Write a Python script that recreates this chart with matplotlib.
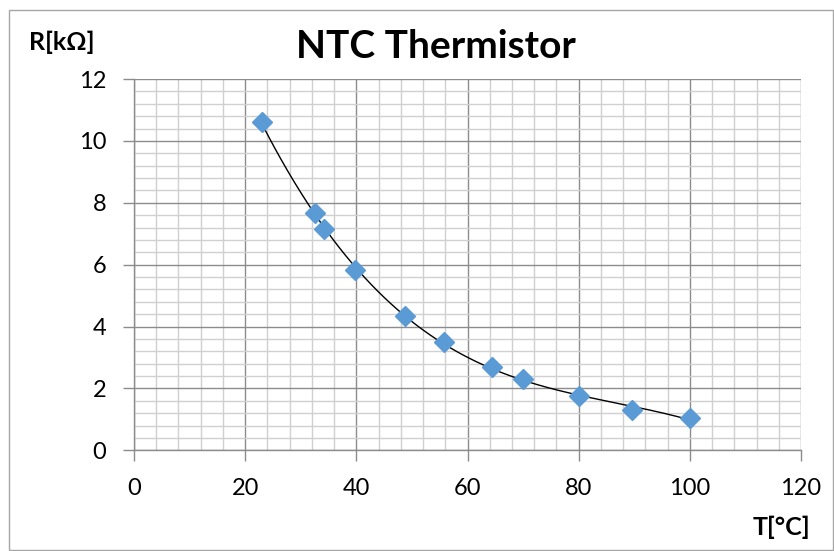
import numpy as np
import matplotlib
matplotlib.use("Agg")
import matplotlib.pyplot as plt
from matplotlib.patches import Rectangle
from matplotlib.ticker import MultipleLocator

temp_c = [23.0, 32.6, 34.2, 39.8, 48.8, 55.8, 64.4, 70.0, 80.0, 89.6, 100.0]
r_kohm = [10.6, 7.66, 7.14, 5.82, 4.33, 3.51, 2.70, 2.29, 1.76, 1.30, 1.05]

title = "NTC Thermistor"
x_label = "T[°C]"
y_label = "R[kΩ]"

plt.rcParams["font.family"] = ["Lato", "DejaVu Sans"]

fig = plt.figure(figsize=(8.34, 5.51), dpi=100)
# grauer Rahmen wie in Excel
fig.patches.append(Rectangle((9 / 834, 1 / 551), 824 / 834, 540 / 551,
                             transform=fig.transFigure, fill=False,
                             edgecolor="#a6a6a6", linewidth=1))

ax = fig.add_axes([134 / 834, 1 - 450.3 / 551, 667 / 834, 371.3 / 551])

# Trendlinie (Polynom 3. Ordnung)
coef = np.polyfit(temp_c, r_kohm, 3)
xs = np.linspace(min(temp_c), max(temp_c), 200)
ax.plot(xs, np.polyval(coef, xs), color="black", linewidth=1.0, zorder=3)

ax.plot(temp_c, r_kohm, linestyle="none", marker="D", markersize=10,
        color="#5b9bd5", markeredgecolor="#5b9bd5", zorder=4)

ax.set_xlim(0, 120)
ax.set_ylim(0, 12)
ax.xaxis.set_major_locator(MultipleLocator(20))
ax.xaxis.set_minor_locator(MultipleLocator(4))
ax.yaxis.set_major_locator(MultipleLocator(2))
ax.yaxis.set_minor_locator(MultipleLocator(0.4))

ax.grid(which="major", color="#8c8c8c", linewidth=1.0)
ax.grid(which="minor", color="#d0d0d0", linewidth=1.0)
ax.set_axisbelow(True)

for side in ["top", "right"]:
    ax.spines[side].set_visible(False)
for side in ["left", "bottom"]:
    ax.spines[side].set_color("#8c8c8c")
    ax.spines[side].set_linewidth(1.0)

ax.tick_params(which="major", direction="out", length=8, width=1,
               color="#8c8c8c", labelsize=17, pad=12)
ax.tick_params(which="minor", length=0)

fig.text(435.5 / 834, 1 - 46.5 / 551, title, ha="center", va="center",
         fontsize=28, fontweight="bold")
fig.text(29 / 834, 1 - 42 / 551, y_label, ha="left", va="center",
         fontsize=18, fontweight="bold")
fig.text(810 / 834, 1 - 527.5 / 551, x_label, ha="right", va="center",
         fontsize=18, fontweight="bold")

fig.savefig("out.png", dpi=100)
